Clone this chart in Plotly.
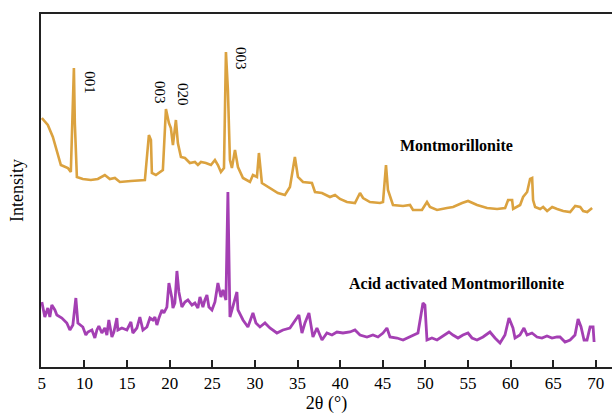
import plotly.graph_objects as go

# Montmorillonite (orange) pattern: 2θ (°) and intensity (a.u.)
mont_2theta = [5.0, 5.70, 6.29, 6.88, 7.23, 8.05, 8.40, 8.76, 8.87, 9.11, 9.81, 10.75, 11.57, 12.39,
               12.98, 13.57, 14.15, 15.45, 17.09, 17.56, 17.80, 17.91, 18.38, 19.20, 19.44, 19.56,
               19.91, 20.14, 20.38, 20.61, 20.73, 20.96, 21.32, 21.79, 22.37, 22.96, 23.31, 23.67,
               24.25, 24.84, 25.31, 25.66, 26.01, 26.37, 26.60, 26.83, 27.07, 27.30, 27.66, 28.01,
               28.60, 29.42, 29.77, 30.24, 30.47, 30.82, 31.76, 32.70, 33.52, 34.11, 34.69, 35.05,
               35.64, 36.69, 37.05, 37.87, 38.81, 39.40, 39.98, 40.80, 41.74, 42.33, 42.69, 43.50,
               44.68, 45.03, 45.38, 45.61, 46.20, 47.38, 48.20, 48.55, 49.60, 50.19, 50.54, 51.37,
               52.54, 53.25, 54.31, 55.01, 56.07, 57.24, 58.42, 59.36, 59.71, 60.18, 60.30, 61.12,
               61.47, 61.94, 62.29, 62.53, 62.64, 62.88, 63.47, 63.82, 64.29, 64.88, 65.46, 66.17,
               66.99, 67.58, 68.17, 68.52, 68.99, 69.57]
mont_intensity = [249, 242, 230, 214, 202, 199, 195, 299, 244, 190, 188, 187, 188, 192,
                  188, 189, 185, 186, 187, 232, 227, 194, 192, 197, 230, 258,
                  244, 239, 222, 244, 247, 224, 210, 209, 204, 205, 202, 205,
                  204, 202, 207, 202, 195, 199, 315, 277, 207, 199, 217, 200,
                  189, 185, 192, 190, 214, 184, 179, 174, 172, 180, 210, 190,
                  185, 184, 175, 174, 170, 172, 168, 165, 164, 174, 169, 165,
                  164, 165, 202, 177, 162, 161, 162, 157, 157, 165, 160, 157,
                  159, 160, 164, 166, 162, 159, 158, 159, 167, 167, 158, 162,
                  170, 175, 188, 189, 167, 160, 158, 160, 156, 160, 158, 156,
                  155, 161, 160, 156, 155, 159]

# Acid activated Montmorillonite (purple) pattern
acid_2theta = [5.00, 5.35, 5.70, 5.94, 6.17, 6.53, 6.76, 7.35, 7.93, 8.29, 8.64, 8.99, 9.23, 9.46,
               9.81, 10.16, 10.40, 10.87, 11.22, 11.46, 11.69, 12.04, 12.39, 12.63, 12.86, 13.22,
               13.45, 13.80, 13.92, 14.39, 14.98, 15.45, 15.68, 16.15, 16.50, 16.86, 17.33, 17.68,
               18.03, 18.27, 18.50, 18.74, 19.09, 19.32, 19.67, 19.91, 20.26, 20.38, 20.61, 20.85,
               21.08, 21.43, 21.79, 22.14, 22.61, 22.96, 23.31, 23.55, 23.90, 24.13, 24.37, 24.60,
               24.96, 25.31, 25.66, 26.01, 26.25, 26.60, 26.83, 27.07, 27.42, 27.89, 28.01, 28.60,
               29.18, 29.77, 30.12, 30.59, 31.18, 31.76, 32.58, 33.29, 34.11, 34.93, 35.16, 35.52,
               35.87, 36.34, 36.81, 37.28, 37.87, 38.45, 39.04, 39.62, 40.33, 41.15, 41.74, 42.33,
               43.15, 43.85, 44.44, 45.03, 45.49, 45.85, 46.67, 47.38, 48.20, 49.13, 49.72, 49.95,
               50.19, 50.77, 51.37, 51.95, 52.30, 52.77, 53.24, 53.83, 54.41, 55.00, 55.47, 56.06,
               56.76, 57.58, 58.17, 58.76, 59.34, 59.81, 60.28, 60.52, 61.10, 61.57, 61.93, 62.51,
               63.10, 63.68, 64.27, 64.86, 65.45, 65.80, 66.39, 66.98, 67.56, 67.92, 68.27, 68.62,
               68.97, 69.33, 69.68, 69.80]
acid_intensity = [65, 50, 59, 50, 62, 57, 52, 49, 44, 37, 42, 69, 44, 42,
                  40, 32, 35, 37, 29, 37, 41, 34, 39, 32, 47, 30,
                  35, 49, 37, 39, 37, 45, 34, 39, 50, 37, 40, 49,
                  47, 50, 42, 49, 57, 54, 60, 84, 69, 59, 64, 96,
                  75, 60, 65, 67, 62, 64, 59, 70, 60, 67, 72, 60,
                  57, 65, 84, 70, 77, 67, 175, 50, 60, 75, 57, 47,
                  40, 54, 44, 40, 44, 39, 34, 37, 39, 49, 52, 34,
                  44, 54, 30, 39, 27, 34, 32, 35, 34, 35, 37, 32,
                  30, 32, 30, 34, 39, 30, 29, 27, 30, 34, 64, 62,
                  27, 29, 27, 30, 32, 35, 32, 29, 32, 34, 29, 27,
                  30, 35, 29, 24, 32, 49, 39, 29, 32, 39, 32, 34,
                  30, 29, 31, 29, 30, 30, 25, 27, 32, 48, 40, 27,
                  27, 40, 40, 25]

x_tickvals = [5, 10, 15, 20, 25, 30, 35, 40, 45, 50, 55, 60, 65, 70]

peak_labels = ["001", "003", "020", "003"]
peak_label_x = [10.63, 18.85, 21.55, 28.36]
peak_label_y = [284, 274, 272, 308]

series_labels = ["Montmorillonite", "Acid activated Montmorillonite"]
series_label_x = [53.7, 53.7]
series_label_y = [222, 84]

SERIF = "Liberation Serif, Times New Roman, serif"

fig = go.Figure()
fig.add_trace(go.Scatter(x=mont_2theta, y=mont_intensity, mode="lines",
                         line=dict(color="#DBA23F", width=2.6), showlegend=False,
                         name="Montmorillonite"))
fig.add_trace(go.Scatter(x=acid_2theta, y=acid_intensity, mode="lines",
                         line=dict(color="#A43FB3", width=2.8), showlegend=False,
                         name="Acid activated Montmorillonite"))

for t, x, y in zip(peak_labels, peak_label_x, peak_label_y):
    fig.add_annotation(x=x, y=y, text=t, showarrow=False, textangle=90,
                       font=dict(family=SERIF, size=15, color="black"))
for t, x, y in zip(series_labels, series_label_x, series_label_y):
    fig.add_annotation(x=x, y=y, text="<b>" + t + "</b>", showarrow=False,
                       font=dict(family=SERIF, size=16, color="black"))

fig.update_layout(
    width=612, height=417,
    margin=dict(l=41, r=0, t=14, b=50),
    paper_bgcolor="white", plot_bgcolor="white",
    font=dict(family=SERIF, color="black"),
    xaxis=dict(range=[4.9, 71.9], tickvals=x_tickvals, ticks="inside", ticklen=7,
               tickwidth=1.5, tickcolor="#222", showline=True, linecolor="#222",
               linewidth=2, mirror=True, showgrid=False, zeroline=False,
               tickfont=dict(family=SERIF, size=17, color="black"),
               title=dict(text="2θ (°)", font=dict(family=SERIF, size=18, color="black"),
                          standoff=4)),
    yaxis=dict(range=[0, 353], showticklabels=False, ticks="", showline=True,
               linecolor="#222", linewidth=2, showgrid=False, zeroline=False,
               title=dict(text="Intensity", font=dict(family=SERIF, size=18, color="black"),
                          standoff=11)),
)

fig.write_html("out.html")
